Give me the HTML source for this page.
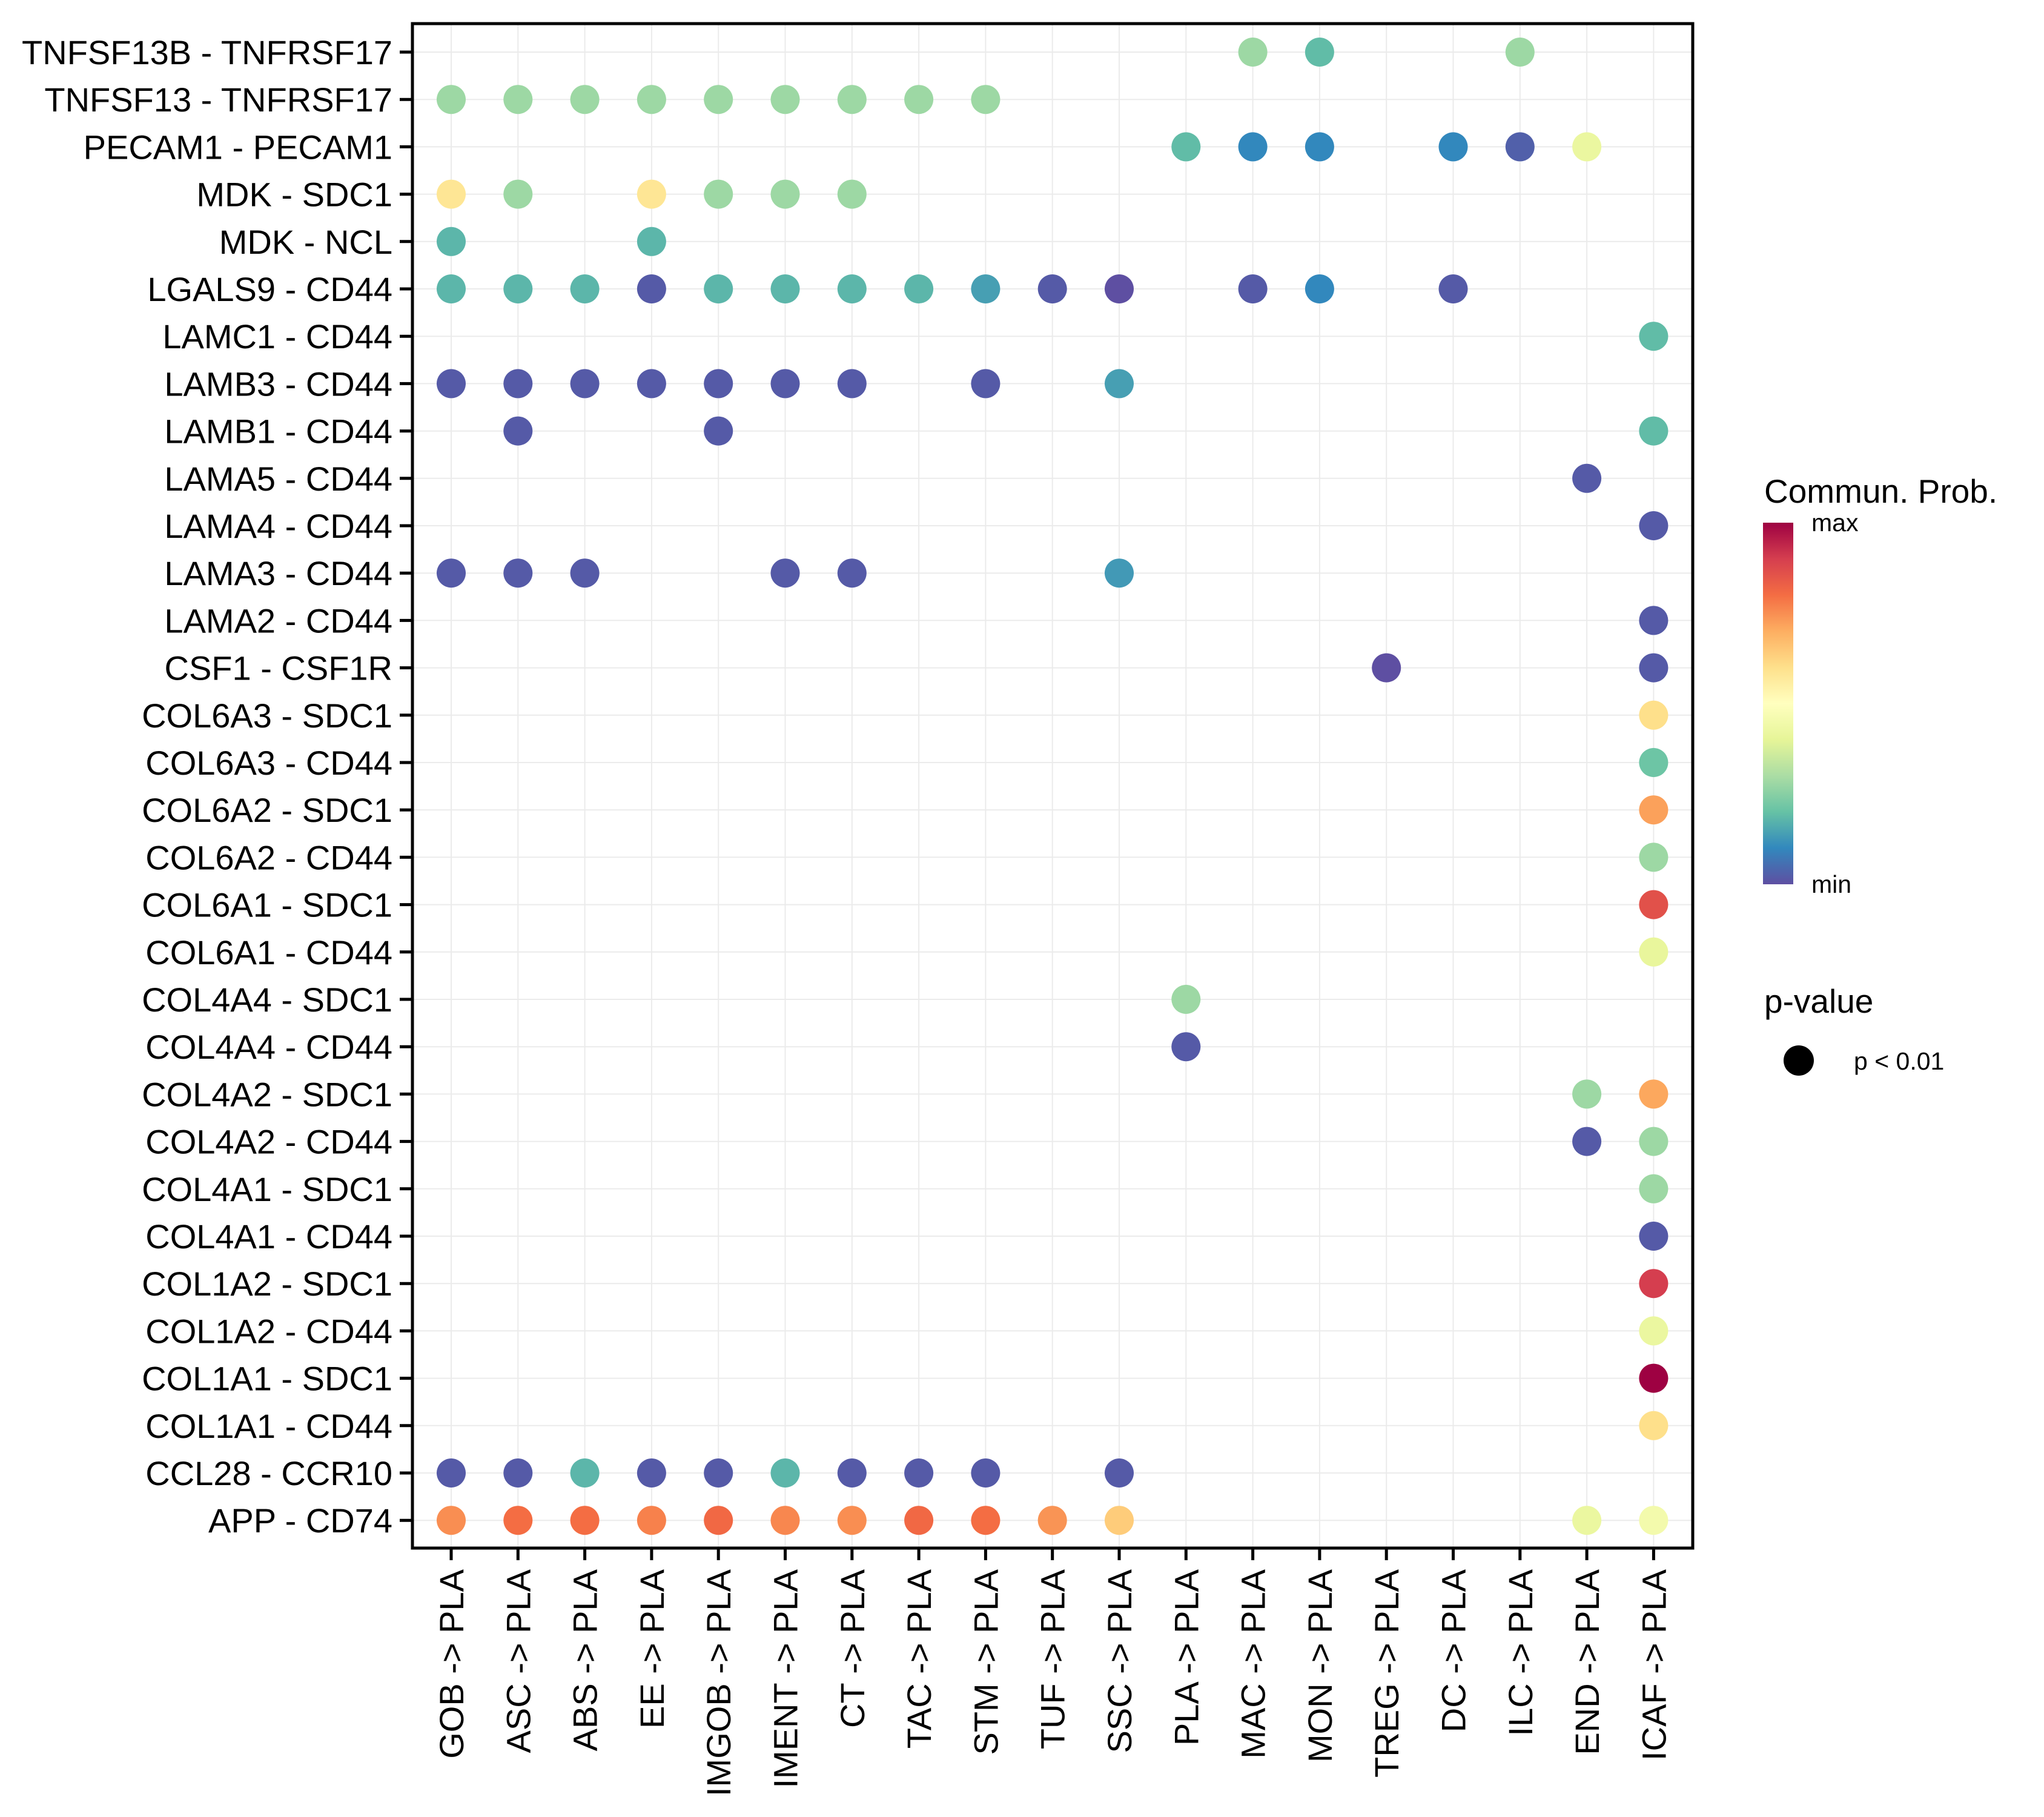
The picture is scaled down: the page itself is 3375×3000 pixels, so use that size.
<!DOCTYPE html>
<html><head><meta charset="utf-8"><style>
html,body{margin:0;padding:0;background:#fff;}
svg{display:block;font-family:"Liberation Sans",Arial,sans-serif;}
</style></head><body>
<svg id="chart" width="3375" height="3000" viewBox="0 0 3375 3000" xmlns="http://www.w3.org/2000/svg">
<defs>
<linearGradient id="spec" x1="0" y1="0" x2="0" y2="1">
<stop offset="0" stop-color="#9E0142"/><stop offset="0.1" stop-color="#D53E4F"/><stop offset="0.2" stop-color="#F46D43"/><stop offset="0.3" stop-color="#FDAE61"/><stop offset="0.4" stop-color="#FEE08B"/><stop offset="0.5" stop-color="#FFFFBF"/><stop offset="0.6" stop-color="#E6F598"/><stop offset="0.7" stop-color="#ABDDA4"/><stop offset="0.8" stop-color="#66C2A5"/><stop offset="0.9" stop-color="#3288BD"/><stop offset="1" stop-color="#5E4FA2"/>
</linearGradient>
</defs>
<g id="grid"></g>
<g id="dots"></g>
<rect x="681" y="39" width="2114" height="2517" fill="none" stroke="#000" stroke-width="5"/>
<g id="yaxis"></g>
<g id="xaxis"></g>
<g>
<text x="2913" y="830" font-size="55">Commun. Prob.</text>
<rect x="2911" y="863" width="50" height="597" fill="url(#spec)"/>
<text x="2991" y="877" font-size="41">max</text>
<text x="2991" y="1474" font-size="41">min</text>
</g>
<g>
<text x="2913" y="1672" font-size="55">p-value</text>
<circle cx="2970" cy="1751" r="25" fill="#000"/>
<text x="3061" y="1766" font-size="41">p &lt; 0.01</text>
</g>
</svg>
<script>
const columns = ["GOB","ASC","ABS","EE","IMGOB","IMENT","CT","TAC","STM","TUF","SSC","PLA","MAC","MON","TREG","DC","ILC","END","ICAF"];
const rows = ["TNFSF13B - TNFRSF17","TNFSF13 - TNFRSF17","PECAM1 - PECAM1","MDK - SDC1","MDK - NCL","LGALS9 - CD44","LAMC1 - CD44","LAMB3 - CD44","LAMB1 - CD44","LAMA5 - CD44","LAMA4 - CD44","LAMA3 - CD44","LAMA2 - CD44","CSF1 - CSF1R","COL6A3 - SDC1","COL6A3 - CD44","COL6A2 - SDC1","COL6A2 - CD44","COL6A1 - SDC1","COL6A1 - CD44","COL4A4 - SDC1","COL4A4 - CD44","COL4A2 - SDC1","COL4A2 - CD44","COL4A1 - SDC1","COL4A1 - CD44","COL1A2 - SDC1","COL1A2 - CD44","COL1A1 - SDC1","COL1A1 - CD44","CCL28 - CCR10","APP - CD74"];
// each point: [row index, column index, prob (0..1 scaled)]
const pointRow = [0,0,0, 1,1,1,1,1,1,1,1,1, 2,2,2,2,2,2, 3,3,3,3,3,3, 4,4, 5,5,5,5,5,5,5,5,5,5,5,5,5,5, 6, 7,7,7,7,7,7,7,7,7, 8,8,8, 9, 10, 11,11,11,11,11,11, 12, 13,13, 14,15,16,17,18,19, 20,21, 22,22,23,23, 24,25,26,27,28,29, 30,30,30,30,30,30,30,30,30,30, 31,31,31,31,31,31,31,31,31,31,31,31,31];
const pointCol = [12,13,16, 0,1,2,3,4,5,6,7,8, 11,12,13,15,16,17, 0,1,3,4,5,6, 0,3, 0,1,2,3,4,5,6,7,8,9,10,12,13,15, 18, 0,1,2,3,4,5,6,8,10, 1,4,18, 17, 18, 0,1,2,5,6,10, 18, 14,18, 18,18,18,18,18,18, 11,11, 17,18,17,18, 18,18,18,18,18,18, 0,1,2,3,4,5,6,7,8,10, 0,1,2,3,4,5,6,7,8,9,10,17,18];
const pointProb = [0.28,0.19,0.28, 0.28,0.28,0.28,0.28,0.28,0.28,0.28,0.28,0.28, 0.19,0.1,0.1,0.1,0.03,0.42, 0.58,0.28,0.58,0.28,0.28,0.28, 0.18,0.18, 0.18,0.18,0.18,0.02,0.18,0.18,0.18,0.18,0.14,0.02,0.0,0.02,0.1,0.02, 0.19, 0.02,0.02,0.02,0.02,0.02,0.02,0.02,0.02,0.14, 0.02,0.02,0.19, 0.02, 0.02, 0.02,0.02,0.02,0.02,0.02,0.13, 0.02, 0.0,0.02, 0.6,0.21,0.72,0.28,0.86,0.41, 0.28,0.02, 0.28,0.71,0.02,0.28, 0.28,0.02,0.9,0.42,1.0,0.6, 0.02,0.02,0.18,0.02,0.02,0.18,0.02,0.02,0.02,0.02, 0.75,0.8,0.8,0.77,0.81,0.76,0.75,0.81,0.8,0.74,0.64,0.42,0.45];

const NS = "http://www.w3.org/2000/svg";
const stops = ["#5E4FA2","#3288BD","#66C2A5","#ABDDA4","#E6F598","#FFFFBF","#FEE08B","#FDAE61","#F46D43","#D53E4F","#9E0142"];
function hex(c){return [parseInt(c.slice(1,3),16),parseInt(c.slice(3,5),16),parseInt(c.slice(5,7),16)];}
function color(v){
  v=Math.max(0,Math.min(1,v)); const p=v*10; const i=Math.min(9,Math.floor(p)); const t=p-i;
  const a=hex(stops[i]), b=hex(stops[i+1]);
  return "rgb("+a.map((x,k)=>Math.round(x+(b[k]-x)*t)).join(",")+")";
}
const x0=745, dx=110.3, y0=86, dy=78.2;
function xPos(c){return x0+c*dx;}
function yPos(r){return y0+r*dy;}
function mk(tag,attrs,parent){const e=document.createElementNS(NS,tag);for(const k in attrs)e.setAttribute(k,attrs[k]);parent.appendChild(e);return e;}
const grid=document.getElementById("grid"), dots=document.getElementById("dots"), ya=document.getElementById("yaxis"), xa=document.getElementById("xaxis");
columns.forEach((c,i)=>{
  const l=mk("line",{x1:xPos(i),x2:xPos(i),y1:39,y2:2556,stroke:"#ebebeb","stroke-width":2},grid);
  
  
  const t=mk("line",{x1:xPos(i),x2:xPos(i),y1:2556,y2:2576,stroke:"#000","stroke-width":5},xa);
  
  
  const tx=mk("text",{x:0,y:0,"font-size":56,"text-anchor":"end",transform:"translate("+(xPos(i)+20)+",2591) rotate(-90)"},xa);
  tx.textContent=c+" -> PLA";
  
  
});
rows.forEach((r,i)=>{
  const l=mk("line",{x1:681,x2:2795,y1:yPos(i),y2:yPos(i),stroke:"#ebebeb","stroke-width":2},grid);
  
  
  const t=mk("line",{x1:660,x2:681,y1:yPos(i),y2:yPos(i),stroke:"#000","stroke-width":5},ya);
  
  
  const tx=mk("text",{x:648,y:yPos(i)+20,"font-size":56,"text-anchor":"end"},ya);
  tx.textContent=r;
  
  
});
pointRow.forEach((r,k)=>{
  const c=mk("circle",{cx:xPos(pointCol[k]),cy:yPos(r),r:24,fill:color(pointProb[k])},dots);
  
  
});
</script>
</body></html>
